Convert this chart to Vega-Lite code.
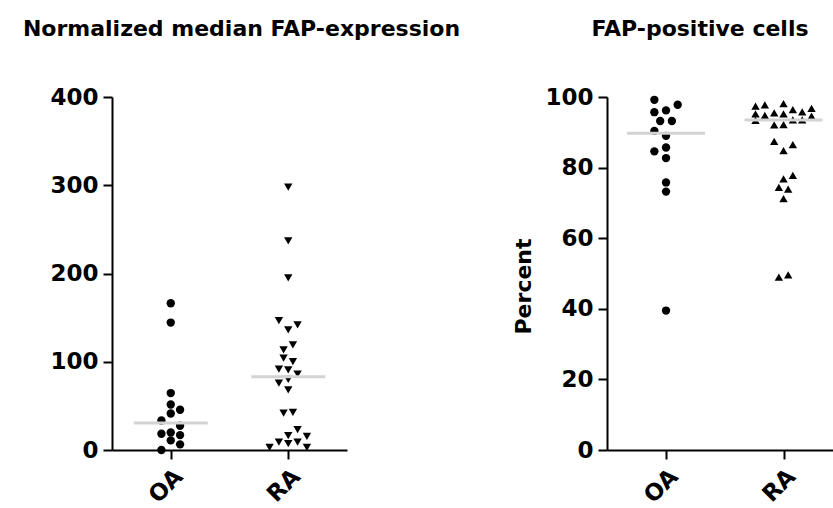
{
  "$schema": "https://vega.github.io/schema/vega-lite/v6.json",
  "autosize": {"type": "none"},
  "padding": {"left": 112, "top": 97, "right": 721, "bottom": 411},
  "bounds": "flush",
  "spacing": 260,
  "resolve": {"scale": {"shape": "independent"}},
  "config": {
    "view": {"stroke": null},
    "font": "DejaVu Sans",
    "axis": {
      "domainColor": "black", "domainWidth": 2, "tickColor": "black", "tickWidth": 2, "tickSize": 9,
      "labelFont": "DejaVu Sans", "labelFontWeight": "bold", "labelFontSize": 23, "labelColor": "black",
      "titleFont": "DejaVu Sans", "titleFontWeight": "bold", "titleFontSize": 22, "titleColor": "black",
      "grid": false, "labelPadding": 5
    },
    "title": {"font": "DejaVu Sans", "fontWeight": "bold", "fontSize": 22, "color": "black", "anchor": "middle"}
  },
  "datasets": {
    "expr": [
      {"group": "OA", "value": 166.3, "col": 0},
      {"group": "OA", "value": 144.4, "col": 0},
      {"group": "OA", "value": 64.5, "col": 0},
      {"group": "OA", "value": 51.6, "col": 0},
      {"group": "OA", "value": 41.4, "col": 0},
      {"group": "OA", "value": 45.6, "col": 2},
      {"group": "OA", "value": 33.5, "col": -2},
      {"group": "OA", "value": 27.5, "col": 2},
      {"group": "OA", "value": 18.4, "col": -2},
      {"group": "OA", "value": 19.9, "col": 0},
      {"group": "OA", "value": 16.9, "col": 2},
      {"group": "OA", "value": 10.9, "col": 0},
      {"group": "OA", "value": 6.4, "col": 2},
      {"group": "OA", "value": 0, "col": -2},
      {"group": "RA", "value": 298, "col": 0},
      {"group": "RA", "value": 237, "col": 0},
      {"group": "RA", "value": 195, "col": 0},
      {"group": "RA", "value": 146.6, "col": -2},
      {"group": "RA", "value": 136.1, "col": 0},
      {"group": "RA", "value": 141.7, "col": 2},
      {"group": "RA", "value": 119.1, "col": 1},
      {"group": "RA", "value": 113.5, "col": -1},
      {"group": "RA", "value": 104.1, "col": -1},
      {"group": "RA", "value": 100.2, "col": 1},
      {"group": "RA", "value": 91.6, "col": -2},
      {"group": "RA", "value": 90.8, "col": 0},
      {"group": "RA", "value": 85.9, "col": 2},
      {"group": "RA", "value": 75.8, "col": -2},
      {"group": "RA", "value": 80, "col": 0},
      {"group": "RA", "value": 68.2, "col": 0},
      {"group": "RA", "value": 41.8, "col": -1},
      {"group": "RA", "value": 42.5, "col": 1},
      {"group": "RA", "value": 23, "col": 2},
      {"group": "RA", "value": 16.2, "col": 0},
      {"group": "RA", "value": 15.4, "col": 4},
      {"group": "RA", "value": 9, "col": -2},
      {"group": "RA", "value": 7.1, "col": 0},
      {"group": "RA", "value": 9, "col": 2},
      {"group": "RA", "value": 3, "col": -4},
      {"group": "RA", "value": 3, "col": 4}
    ],
    "pct": [
      {"group": "OA", "value": 99.2, "col": -2.5},
      {"group": "OA", "value": 95.7, "col": -2.5},
      {"group": "OA", "value": 96.2, "col": 0},
      {"group": "OA", "value": 97.8, "col": 2.5},
      {"group": "OA", "value": 93.2, "col": -1.25},
      {"group": "OA", "value": 93.2, "col": 1.25},
      {"group": "OA", "value": 90.4, "col": -2.5},
      {"group": "OA", "value": 89.0, "col": 0},
      {"group": "OA", "value": 84.6, "col": -2.5},
      {"group": "OA", "value": 85.7, "col": 0},
      {"group": "OA", "value": 82.7, "col": 0},
      {"group": "OA", "value": 75.8, "col": 0},
      {"group": "OA", "value": 73.2, "col": 0},
      {"group": "OA", "value": 39.5, "col": 0},
      {"group": "RA", "value": 97.4, "col": -6},
      {"group": "RA", "value": 95.2, "col": -6},
      {"group": "RA", "value": 93.4, "col": -6},
      {"group": "RA", "value": 97.8, "col": -4},
      {"group": "RA", "value": 94.8, "col": -4},
      {"group": "RA", "value": 95.5, "col": -2},
      {"group": "RA", "value": 92.1, "col": -2},
      {"group": "RA", "value": 87.4, "col": -2},
      {"group": "RA", "value": 98.1, "col": 0},
      {"group": "RA", "value": 95.2, "col": 0},
      {"group": "RA", "value": 92.2, "col": 0},
      {"group": "RA", "value": 84.8, "col": 0},
      {"group": "RA", "value": 76.8, "col": 0},
      {"group": "RA", "value": 71.2, "col": 0},
      {"group": "RA", "value": 96.4, "col": 2},
      {"group": "RA", "value": 93.5, "col": 2},
      {"group": "RA", "value": 86.5, "col": 2},
      {"group": "RA", "value": 77.8, "col": 2},
      {"group": "RA", "value": 95.8, "col": 4},
      {"group": "RA", "value": 93.5, "col": 4},
      {"group": "RA", "value": 96.8, "col": 6},
      {"group": "RA", "value": 94.6, "col": 6},
      {"group": "RA", "value": 74.4, "col": -1},
      {"group": "RA", "value": 73.9, "col": 1},
      {"group": "RA", "value": 49.0, "col": -1},
      {"group": "RA", "value": 49.6, "col": 1}
    ]
  },
  "hconcat": [
    {
      "width": 235,
      "height": 353,
      "data": {"name": "expr"},
      "title": {"text": "Normalized median FAP-expression", "dx": 12, "offset": 45},
      "layer": [
        {
          "mark": {"type": "point", "filled": true, "opacity": 1, "size": 70, "color": "black"},
          "encoding": {
            "x": {"field": "group", "type": "nominal", "scale": {"type": "point", "padding": 0.5}, "axis": {"title": null, "labelAngle": -45, "labelPadding": 6}},
            "xOffset": {"field": "col", "type": "quantitative", "scale": {"domain": [-4, 4], "range": [-28, 28]}},
            "y": {"field": "value", "type": "quantitative", "scale": {"domain": [0, 400], "nice": false}, "axis": {"values": [0, 100, 200, 300, 400], "title": null}},
            "shape": {"field": "group", "type": "nominal", "scale": {"domain": ["OA", "RA"], "range": ["circle", "triangle-down"]}, "legend": null}
          }
        },
        {
          "mark": {"type": "tick", "color": "#d3d3d3", "thickness": 3, "size": 74, "opacity": 1},
          "encoding": {
            "x": {"field": "group", "type": "nominal"},
            "y": {"aggregate": "median", "field": "value", "type": "quantitative"}
          }
        }
      ]
    },
    {
      "width": 226,
      "height": 353,
      "data": {"name": "pct"},
      "title": {"text": "FAP-positive cells", "dx": -20, "offset": 45},
      "layer": [
        {
          "mark": {"type": "point", "filled": true, "opacity": 1, "size": 70, "color": "black"},
          "encoding": {
            "x": {"field": "group", "type": "nominal", "scale": {"type": "point", "padding": 0.4617, "align": 0.544}, "axis": {"title": null, "labelAngle": -45, "labelPadding": 6}},
            "xOffset": {"field": "col", "type": "quantitative", "scale": {"domain": [-6, 6], "range": [-35.5, 35.5]}},
            "y": {"field": "value", "type": "quantitative", "scale": {"domain": [0, 100], "nice": false}, "axis": {"values": [0, 20, 40, 60, 80, 100], "title": "Percent", "titlePadding": 9, "titleY": 189}},
            "shape": {"field": "group", "type": "nominal", "scale": {"domain": ["OA", "RA"], "range": ["circle", "triangle-up"]}, "legend": null}
          }
        },
        {
          "mark": {"type": "tick", "color": "#d3d3d3", "thickness": 3, "size": 78, "opacity": 1},
          "encoding": {
            "x": {"field": "group", "type": "nominal"},
            "y": {"aggregate": "median", "field": "value", "type": "quantitative"}
          }
        }
      ]
    }
  ]
}
